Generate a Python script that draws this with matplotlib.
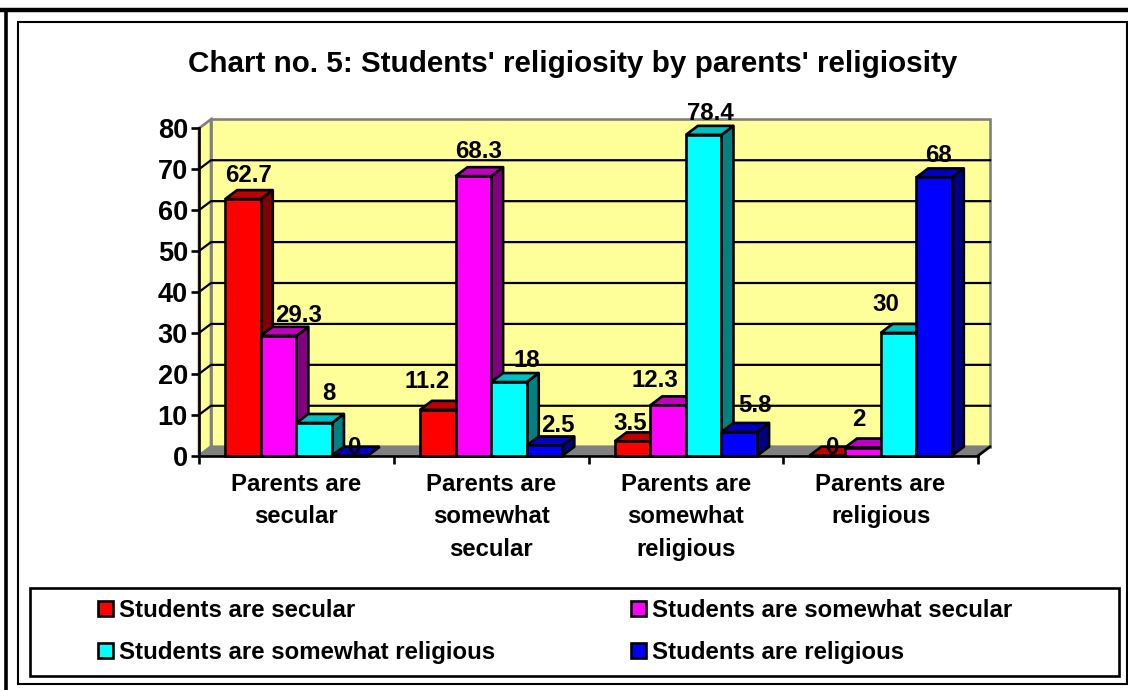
import matplotlib
matplotlib.use("Agg")
import matplotlib.pyplot as plt
from matplotlib.patches import Polygon, Rectangle

plt.rcParams['font.family'] = ['Liberation Sans', 'DejaVu Sans']
plt.rcParams['font.weight'] = 'bold'

categories = ["Parents are\nsecular", "Parents are\nsomewhat\nsecular",
              "Parents are\nsomewhat\nreligious", "Parents are\nreligious"]
series_names = ["Students are secular", "Students are somewhat secular",
                "Students are somewhat religious", "Students are religious"]
secular = [62.7, 11.2, 3.5, 0]
somewhat_secular = [29.3, 68.3, 12.3, 2]
somewhat_religious = [8, 18, 78.4, 30]
religious = [0, 2.5, 5.8, 68]
value_labels = [["62.7", "11.2", "3.5", "0"], ["29.3", "68.3", "12.3", "2"],
                ["8", "18", "78.4", "30"], ["0", "2.5", "5.8", "68"]]

# hand placed label offsets from the bar centre / top, in pixels
label_dx = [[6, -11, -2, 5], [20, 5, -13, -4], [15, 18, 7, -13], [5, 13, 16, 4]]
label_dy = [[24, 28, 18, 8], [20, 25, 25, 28], [29, 22, 21, 28], [8, 20, 26, 22]]

front = ['#ff0000', '#ff00ff', '#00ffff', '#0000ff']
side = ['#800000', '#800080', '#008080', '#000080']
top = ['#c00000', '#c000c0', '#00c0c0', '#0000c0']

W, H = 1128, 690
LW = 1.9
fig = plt.figure(figsize=(W / 100, H / 100), dpi=100, facecolor='white')

# page level frame, legend box and title, in pixels
bg = fig.add_axes([0, 0, 1, 1])
bg.set_xlim(0, W)
bg.set_ylim(H, 0)
bg.axis('off')
bg.plot([0, W], [10, 10], color='black', lw=3.2, solid_capstyle='butt')
bg.plot([5.5, 5.5], [10, H], color='black', lw=2.6, solid_capstyle='butt')
bg.add_patch(Rectangle((18, 22), 1109, 662, fill=False, ec='black', lw=1.5))
bg.add_patch(Rectangle((29.5, 588), 1089.5, 88, fill=False, ec='black', lw=LW))
bg.text(573, 63.5, "Chart no. 5: Students' religiosity by parents' religiosity",
        fontsize=21.3, ha='center', va='center')

# front plane of the 3d box
x0, x1, y0, y1 = 199, 978, 455.7, 128.3
ax = fig.add_axes([x0 / W, 1 - y0 / H, (x1 - x0) / W, (y0 - y1) / H])
ax.patch.set_visible(False)
ax.set_xlim(0, 4)
ax.set_ylim(0, 80)
for s in ax.spines.values():
    s.set_visible(False)

dx = 12 / ((x1 - x0) / 4)
dy = 9 / ((y0 - y1) / 80)

# walls and floor
ax.add_patch(Polygon([(dx, dy), (4 + dx, dy), (4 + dx, 80 + dy), (dx, 80 + dy)],
                     fc='#ffff99', ec='#808080', lw=LW, clip_on=False, zorder=1))
ax.add_patch(Polygon([(0, 0), (dx, dy), (dx, 80 + dy), (0, 80)],
                     fc='#ffff99', ec='#808080', lw=LW, clip_on=False, zorder=1))
ax.add_patch(Polygon([(0, 0), (4, 0), (4 + dx, dy), (dx, dy)],
                     fc='#808080', ec='#808080', lw=LW, clip_on=False, zorder=1))
for v in range(10, 80, 10):
    ax.plot([0, dx, 4 + dx], [v, v + dy, v + dy], color='black', lw=1.6, clip_on=False, zorder=2)
ax.plot([4, 4 + dx], [0, dy], color='black', lw=LW, clip_on=False, zorder=2)
ax.plot([0, 0], [0, 80], color='black', lw=LW, clip_on=False, zorder=3)
ax.plot([0, 4], [0, 0], color='black', lw=LW, clip_on=False, zorder=3)

# bars
all_series = [secular, somewhat_secular, somewhat_religious, religious]
bw = 35.6 / ((x1 - x0) / 4)
start = (1 - 4 * bw) / 2
z = 4
for c in range(4):
    for s in range(4):
        v = all_series[s][c]
        left = c + start + s * bw
        ax.add_patch(Polygon([(left + bw, 0), (left + bw + dx, dy), (left + bw + dx, v + dy), (left + bw, v)],
                             fc=side[s], ec='black', lw=LW, clip_on=False, zorder=z, joinstyle='round'))
        ax.add_patch(Polygon([(left, v), (left + bw, v), (left + bw + dx, v + dy), (left + dx, v + dy)],
                             fc=top[s], ec='black', lw=LW, clip_on=False, zorder=z))
        ax.bar(left, v, bw, align='edge', color=front[s], edgecolor='black', linewidth=LW, zorder=z + 0.5, clip_on=False)
        ax.annotate(value_labels[s][c], xy=(left + bw / 2, v),
                    xytext=(label_dx[s][c], label_dy[s][c]), textcoords='offset pixels',
                    ha='center', va='center', fontsize=17.3, zorder=100, annotation_clip=False)
        z += 1

ax.set_yticks(range(0, 90, 10))
ax.set_xticks(range(5))
ax.set_xticklabels([])
ax.tick_params(axis='y', labelsize=19.5, length=6, width=LW, pad=2)
ax.tick_params(axis='x', length=6, width=LW)
for lab in ax.get_yticklabels():
    lab.set_fontweight('bold')
for i, name in enumerate(categories):
    ax.annotate(name, xy=(i + 0.5, 0), xytext=(0, -17), textcoords='offset pixels',
                ha='center', va='top', fontsize=17.2, linespacing=1.54, annotation_clip=False)

handles = [Rectangle((0, 0), 1, 1, fc=front[i], ec='black', lw=LW) for i in range(4)]
order = [0, 2, 1, 3]
bg.legend([handles[i] for i in order], [series_names[i] for i in order], ncols=2,
          loc='center left', bbox_to_anchor=(88 / W, 1 - 631.5 / H), frameon=False,
          fontsize=17.3, handlelength=0.62, handleheight=0.62, handletextpad=0.27,
          columnspacing=5.65, labelspacing=0.78, borderpad=0.4, borderaxespad=0)

plt.savefig('out.png', dpi=100)
